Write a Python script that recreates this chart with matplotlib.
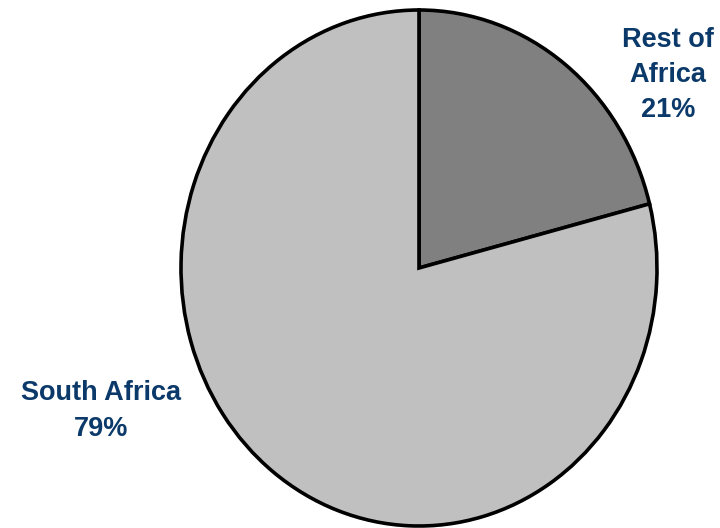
import matplotlib.pyplot as plt

# ==== data ====
labels = ["Rest of\nAfrica", "South Africa"]
shares = [21, 79]
colors = ["#808080", "#C0C0C0"]
text_color = "#0B3A6A"

plt.rcParams['font.family'] = ['Liberation Sans', 'DejaVu Sans']

fig = plt.figure(figsize=(7.2, 5.28), dpi=100)
ax = fig.add_axes([0, 0, 1, 1])

# pie center / radii in pixels
cx, cy, rx, ry = 419, 268, 238, 258

ax.pie(shares, colors=colors, startangle=90, counterclock=False,
       radius=1, center=(0, 0),
       wedgeprops=dict(edgecolor="black", linewidth=2.6))
ax.set_aspect('auto')
ax.set_xlim(-cx / rx, (720 - cx) / rx)
ax.set_ylim(-(528 - cy) / ry, cy / ry)
ax.axis('off')

# labels (pixel coordinates -> axes fraction)
def px(x, y):
    return (x / 720, 1 - y / 528)

ax.text(*px(668, 75), "%s\n%d%%" % (labels[0], shares[0]), transform=ax.transAxes,
        ha="center", va="center", fontsize=19.5, fontweight="bold",
        color=text_color, linespacing=1.45)
ax.text(*px(101, 411), "%s\n%d%%" % (labels[1], shares[1]), transform=ax.transAxes,
        ha="center", va="center", fontsize=19.5, fontweight="bold",
        color=text_color, linespacing=1.55)

fig.savefig("out.png", dpi=100)
